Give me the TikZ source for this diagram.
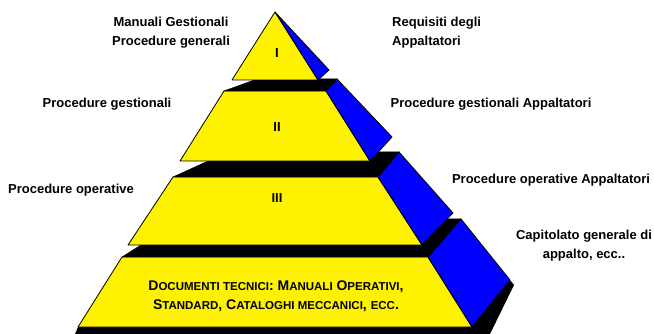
\documentclass[tikz,border=0pt]{standalone}
\usepackage{fontspec}
\setmainfont{Liberation Sans}

\tikzset{
  front/.style={fill=yellow,draw=black,line width=0.8pt,line join=round},
  side/.style={fill=blue,draw=black,line width=0.8pt,line join=round},
  topface/.style={fill=black,draw=black,line width=0.5pt},
  lbl/.style={font=\fontsize{13}{19}\selectfont\bfseries,align=center,inner sep=0pt},
  lvl/.style={font=\fontsize{13}{16}\selectfont\bfseries,inner sep=0pt}
}
\newcommand{\smc}[1]{{\fontsize{11.5}{14}\selectfont #1}}

\begin{document}
\begin{tikzpicture}[x=1pt,y=-1pt]
  \useasboundingbox (0,0) rectangle (654,334);
  % shadow under the base
  \fill (78,327) -- (75,334) -- (490,334) -- (514,285) -- (510,280) -- (472,327) -- cycle;
  % level IV
  \draw[front] (122,257) -- (428,257) -- (472,327) -- (78,327) -- cycle;
  \draw[side] (428,257) -- (461,219) -- (510,280) -- (472,327) -- cycle;
  \draw[topface] (122,257) -- (182,219) -- (461,219) -- (428,257) -- cycle;
  % level III
  \draw[front] (173,177) -- (378,177) -- (422,245) -- (128,245) -- cycle;
  \draw[side] (378,177) -- (399,152) -- (453,213) -- (422,245) -- cycle;
  \draw[topface] (173,177) -- (228,152) -- (399,152) -- (378,177) -- cycle;
  % level II
  \draw[front] (224,91) -- (326,91) -- (370,161) -- (180,161) -- cycle;
  \draw[side] (326,91) -- (337,79) -- (392,137) -- (370,161) -- cycle;
  \draw[topface] (224,91) -- (257,79) -- (337,79) -- (326,91) -- cycle;
  % level I
  \draw[front] (275,12) -- (318,80) -- (232,80) -- cycle;
  \draw[side] (275,12) -- (329,70) -- (318,80) -- cycle;

  \node[lvl] (lI) at (277,53) {I};
  \node[lvl] (lII) at (277,127) {II};
  \node[lvl] (lIII) at (277,198) {III};
  \node[align=center,inner sep=0pt,font=\fontsize{14}{19}\selectfont\bfseries] (lIV) at (276,296)
    {D\smc{OCUMENTI TECNICI}: M\smc{ANUALI} O\smc{PERATIVI},\\
     S\smc{TANDARD}, C\smc{ATALOGHI MECCANICI}, \smc{ECC}.};

  \node[lbl] (mg) at (171,33) {Manuali Gestionali\\Procedure generali};
  \node[lbl,align=left,anchor=west] (ra) at (392,33) {Requisiti degli\\Appaltatori};
  \node[lbl] (pg) at (107,104) {Procedure gestionali};
  \node[lbl] (pga) at (491,104) {Procedure gestionali Appaltatori};
  \node[lbl] (po) at (71,190) {Procedure operative};
  \node[lbl] (poa) at (551,180) {Procedure operative Appaltatori};
  \node[lbl] (cg) at (584,246) {Capitolato generale di\\appalto, ecc..};
\end{tikzpicture}
\end{document}
